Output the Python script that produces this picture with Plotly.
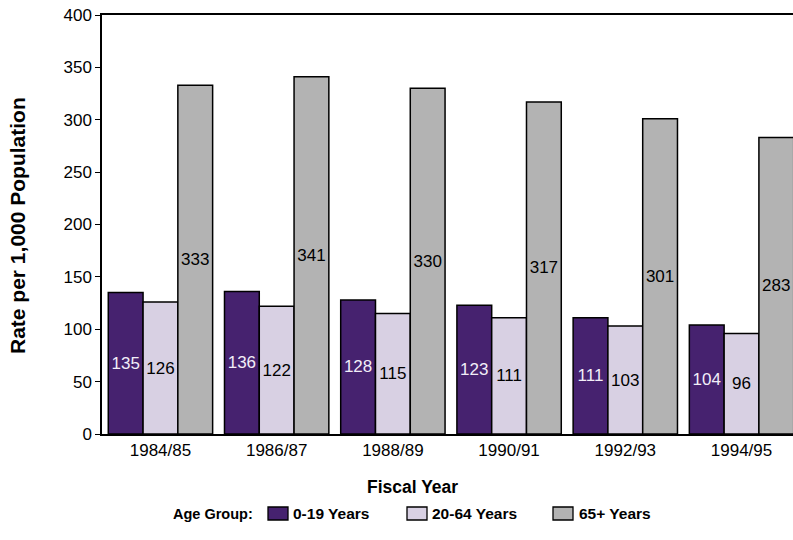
import plotly.graph_objects as go

# ---- data ----
years = ["1984/85", "1986/87", "1988/89", "1990/91", "1992/93", "1994/95"]
series_names = ["0-19 Years", "20-64 Years", "65+ Years"]
age_0_19 = [135, 136, 128, 123, 111, 104]
age_20_64 = [126, 122, 115, 111, 103, 96]
age_65_plus = [333, 341, 330, 317, 301, 283]
y_ticks = [0, 50, 100, 150, 200, 250, 300, 350, 400]

# ---- style ----
colors = ["#46226F", "#D8D0E3", "#B3B3B3"]
text_colors = ["#F2EEF8", "#000000", "#000000"]
FONT = "Arial, 'Liberation Sans', sans-serif"

W, H = 793, 540
L, R, T, B = 102, 0, 15, 106
PW, PH = W - L - R, H - T - B


def px(x):
    return (x - L) / PW


def py(y):
    return (H - B - y) / PH


fig = go.Figure()
for name, vals, c, tc in zip(series_names, [age_0_19, age_20_64, age_65_plus], colors, text_colors):
    fig.add_trace(go.Bar(
        x=years, y=vals, name=name,
        marker=dict(color=c, line=dict(color="#000000", width=1.5)),
        text=[str(v) for v in vals], texttemplate="%{text}",
        textposition="inside", insidetextanchor="middle", textangle=0,
        constraintext="none",
        textfont=dict(family=FONT, size=17, color=tc),
        showlegend=False,
    ))

fig.update_layout(
    width=W, height=H,
    margin=dict(l=L, r=R, t=T, b=B, pad=0),
    paper_bgcolor="white", plot_bgcolor="white",
    barmode="group", bargap=0.102, bargroupgap=0,
    font=dict(family=FONT, color="#000000"),
    showlegend=False,
)
fig.update_xaxes(
    range=[-0.503, 5.443], showline=True, linecolor="#000000", linewidth=1.5,
    mirror=True, ticks="", showgrid=False, zeroline=False,
    tickfont=dict(family=FONT, size=17, color="#000000"),
)
fig.update_yaxes(
    range=[0, 400], tickvals=y_ticks, showline=True, linecolor="#000000", linewidth=1.5,
    ticks="outside", ticklen=5, tickwidth=1.2, tickcolor="#000000",
    showgrid=False, zeroline=False,
    tickfont=dict(family=FONT, size=17, color="#000000"),
)

annotations = [
    dict(text="<b>Rate per 1,000 Population</b>", xref="paper", yref="paper",
         x=px(17), y=py(226), textangle=-90, showarrow=False, xanchor="center", yanchor="middle",
         font=dict(family=FONT, size=21, color="#000000")),
    dict(text="<b>Fiscal Year</b>", xref="paper", yref="paper",
         x=px(412.5), y=py(487), showarrow=False, xanchor="center", yanchor="middle",
         font=dict(family=FONT, size=17.5, color="#000000")),
    dict(text="<b>Age Group:</b>", xref="paper", yref="paper",
         x=px(171), y=py(513.5), showarrow=False, xanchor="left", yanchor="middle",
         font=dict(family=FONT, size=14.5, color="#000000")),
]
shapes = []
box_left = [268, 407, 553]
text_left = [291, 430, 577]
for name, c, bx, tx in zip(series_names, colors, box_left, text_left):
    shapes.append(dict(type="rect", xref="paper", yref="paper",
                       x0=px(bx), x1=px(bx + 20), y0=py(520), y1=py(507),
                       fillcolor=c, line=dict(color="#000000", width=1.3)))
    annotations.append(dict(text="<b>" + name + "</b>", xref="paper", yref="paper",
                            x=px(tx), y=py(513.5), showarrow=False, xanchor="left", yanchor="middle",
                            font=dict(family=FONT, size=15.5, color="#000000")))

fig.update_layout(annotations=annotations, shapes=shapes)
fig.write_html("out.html")
